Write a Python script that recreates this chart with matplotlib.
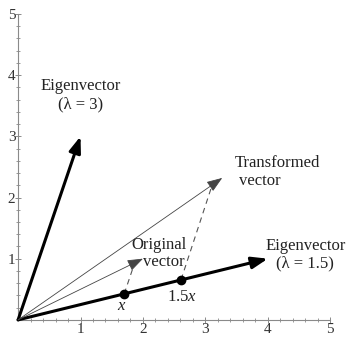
import numpy as np
import matplotlib.pyplot as plt

plt.rcParams['font.family'] = ['Liberation Serif', 'DejaVu Serif']
plt.rcParams['mathtext.fontset'] = 'custom'
plt.rcParams['mathtext.rm'] = 'Liberation Serif'
plt.rcParams['mathtext.it'] = 'Liberation Serif:italic'

# vectors (tips, all start at origin)
eig3 = (1.0, 3.0)
eig15 = (4.0, 1.0)
original = (2.0, 1.0)
transformed = (3.27, 2.32)

# points on the lambda=1.5 eigenvector
x_pt = (1.70, 0.425)
x15_pt = (2.61, 0.655)

# dashed guide lines (start, end)
dash1 = [(1.70, 0.425), (1.87, 0.94)]
dash2 = [(2.61, 0.655), (3.12, 2.24)]

ticks = [1, 2, 3, 4, 5]

fig = plt.figure(figsize=(3.48, 3.41), dpi=100)
ax = fig.add_axes([0.052, 0.062, 0.897, 0.897])
ax.set_xlim(0, 5)
ax.set_ylim(0, 5)

for s in ['top', 'right']:
    ax.spines[s].set_visible(False)
for s in ['left', 'bottom']:
    ax.spines[s].set_color('#8a8a8a')
    ax.spines[s].set_linewidth(0.8)

ax.set_xticks(ticks)
ax.set_yticks(ticks)
ax.set_xticks(np.arange(0.2, 5.0, 0.2), minor=True)
ax.set_yticks(np.arange(0.2, 5.0, 0.2), minor=True)
ax.tick_params(which='major', direction='inout', length=4, width=0.7,
               color='#8a8a8a', labelsize=11, pad=0, labelcolor='#333333')
ax.tick_params(which='minor', direction='inout', length=2.5, width=0.6,
               color='#8a8a8a')


def arrow(tip, lw, color):
    ax.annotate('', xy=tip, xytext=(0, 0),
                arrowprops=dict(arrowstyle='-|>,head_length=0.6,head_width=0.22',
                                lw=lw, color=color, mutation_scale=16,
                                shrinkA=0, shrinkB=0),
                annotation_clip=False)


arrow(eig3, 2.2, 'black')
arrow(eig15, 2.2, 'black')
arrow(transformed, 0.6, '#444444')
arrow(original, 0.6, '#444444')

for d in (dash1, dash2):
    ax.plot([d[0][0], d[1][0]], [d[0][1], d[1][1]], ls=(0, (5, 4)),
            lw=0.8, color='#555555')

ax.plot([x_pt[0], x15_pt[0]], [x_pt[1], x15_pt[1]], 'o', color='black',
        ms=6, zorder=5)

txt = dict(fontsize=12, color='#222222', ha='center', va='center')
ax.text(1.0, 3.82, 'Eigenvector', **txt)
ax.text(1.0, 3.53, '(λ = 3)', **txt)
ax.text(4.15, 2.56, 'Transformed', **txt)
ax.text(3.87, 2.27, 'vector', **txt)
ax.text(2.25, 1.22, 'Original', **txt)
ax.text(2.33, 0.95, 'vector', **txt)
ax.text(4.6, 1.21, 'Eigenvector', **txt)
ax.text(4.6, 0.92, '(λ = 1.5)', **txt)
ax.text(1.66, 0.22, '$x$', **txt)
ax.text(2.62, 0.37, '1.5$x$', **txt)

fig.savefig('out.png', dpi=100)
